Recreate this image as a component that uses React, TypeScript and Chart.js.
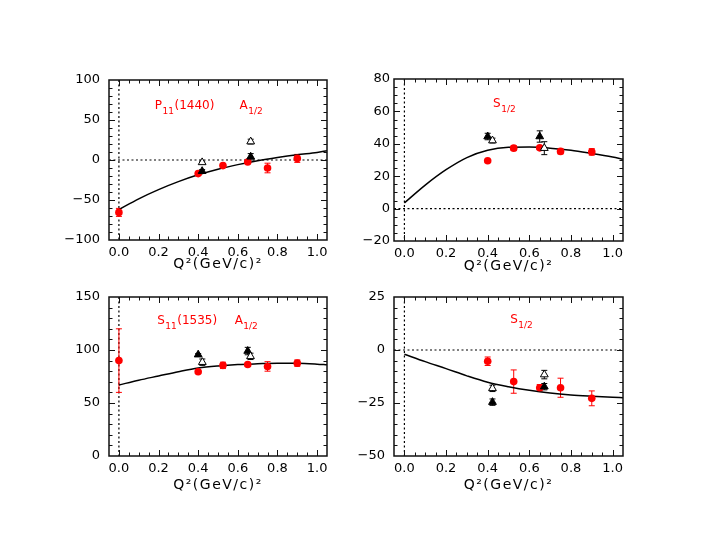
import React, { useEffect, useRef } from "react";
import { Chart, registerables } from "chart.js";

Chart.register(...registerables);

const FONT = "'DejaVu Sans', 'Liberation Sans', sans-serif";
const RED = "#ff0000";

// ---- shared axis data ----
const xMajorTicks = [0, 0.2, 0.4, 0.6, 0.8, 1.0];
const xTitle = "Q²(GeV/c)²";
const curveQ2 = [0, 0.1, 0.2, 0.3, 0.4, 0.5, 0.6, 0.7, 0.8, 0.9, 1.0, 1.05];

// ---- Panel 1: P11(1440) A1/2 ----
const p1YTicks = [-100, -50, 0, 50, 100];
const p1Curve = [-62, -48.5, -37, -27, -18.5, -11.5, -5.8, -1, 3, 6.5, 9.5, 11.5];
const p1RedQ2 = [0.0, 0.4, 0.525, 0.65, 0.75, 0.9];
const p1RedVal = [-65.5, -17, -7, -2.5, -10, 2];
const p1RedErr = [5, 2, 2, 2, 6, 5];
const p1FilledQ2 = [0.42, 0.665];
const p1FilledVal = [-14, 4];
const p1FilledErr = [2, 4];
const p1OpenQ2 = [0.42, 0.665];
const p1OpenVal = [-3, 23];
const p1OpenErr = [1.5, 3];

// ---- Panel 2: P11(1440) S1/2 ----
const p2YTicks = [-20, 0, 20, 40, 60, 80];
const p2Curve = [3.5, 14.5, 24, 31.5, 36, 37.8, 38, 37.3, 36, 34, 31.8, 30.5];
const p2RedQ2 = [0.4, 0.525, 0.65, 0.75, 0.9];
const p2RedVal = [29.5, 37.3, 37.5, 35.3, 35];
const p2RedErr = [0, 1.5, 1, 1.5, 2];
const p2FilledQ2 = [0.4, 0.65];
const p2FilledVal = [44.5, 44.5];
const p2FilledErr = [2, 3.5];
const p2OpenQ2 = [0.423, 0.672];
const p2OpenVal = [42, 37.3];
const p2OpenErr = [1.5, 4];

// ---- Panel 3: S11(1535) A1/2 ----
const p3YTicks = [0, 50, 100, 150];
const p3Curve = [67, 71.5, 75.5, 79.5, 83, 85, 86.3, 87, 87.5, 87.4, 86.6, 86];
const p3RedQ2 = [0.0, 0.4, 0.525, 0.65, 0.75, 0.9];
const p3RedVal = [90, 79.5, 85.5, 86.3, 84.5, 87.6];
const p3RedErr = [30, 0, 3, 1.5, 4.5, 3];
const p3FilledQ2 = [0.4, 0.65];
const p3FilledVal = [95.6, 99];
const p3FilledErr = [1, 3.5];
const p3OpenQ2 = [0.421, 0.664];
const p3OpenVal = [88.5, 94];
const p3OpenErr = [3, 3];

// ---- Panel 4: S11(1535) S1/2 ----
const p4YTicks = [-50, -25, 0, 25];
const p4Curve = [-2, -5.5, -8.8, -12.2, -15.2, -17.3, -19, -20.3, -21.2, -21.8, -22.3, -22.5];
const p4RedQ2 = [0.4, 0.525, 0.65, 0.75, 0.9];
const p4RedVal = [-5.3, -14.9, -17.8, -17.8, -22.8];
const p4RedErr = [2, 5.5, 1.5, 4.5, 3.5];
const p4FilledQ2 = [0.423, 0.672];
const p4FilledVal = [-24.6, -17.3];
const p4FilledErr = [1.5, 1.5];
const p4OpenQ2 = [0.423, 0.672];
const p4OpenVal = [-18.1, -11.6];
const p4OpenErr = [1.5, 2];

const pts = (xs: number[], ys: number[]) => xs.map((x, i) => ({ x, y: ys[i] }));

type Label = { main: string; sub: string; rest?: string; x: number; y: number };

type Panel = {
  left: number; top: number; w: number; h: number;
  yTicks: number[]; yMinor: number; yPad: number; titlePad: number;
  curve: number[];
  red: [number[], number[], number[]];
  filled: [number[], number[], number[]];
  open: [number[], number[], number[]];
  labels: Label[];
};

const panels: Panel[] = [
  {
    left: 109, top: 80, w: 218, h: 160, yTicks: p1YTicks, yMinor: 10, yPad: 9, titlePad: 12,
    curve: p1Curve,
    red: [p1RedQ2, p1RedVal, p1RedErr],
    filled: [p1FilledQ2, p1FilledVal, p1FilledErr],
    open: [p1OpenQ2, p1OpenVal, p1OpenErr],
    labels: [
      { main: "P", sub: "11", rest: "(1440)", x: 0.181, y: 63.8 },
      { main: "A", sub: "1/2", x: 0.609, y: 63.8 },
    ],
  },
  {
    left: 394, top: 79, w: 229, h: 162, yTicks: p2YTicks, yMinor: 5, yPad: 4, titlePad: 11,
    curve: p2Curve,
    red: [p2RedQ2, p2RedVal, p2RedErr],
    filled: [p2FilledQ2, p2FilledVal, p2FilledErr],
    open: [p2OpenQ2, p2OpenVal, p2OpenErr],
    labels: [{ main: "S", sub: "1/2", x: 0.426, y: 62.7 }],
  },
  {
    left: 109, top: 297, w: 218, h: 159, yTicks: p3YTicks, yMinor: 10, yPad: 9, titlePad: 7.5,
    curve: p3Curve,
    red: [p3RedQ2, p3RedVal, p3RedErr],
    filled: [p3FilledQ2, p3FilledVal, p3FilledErr],
    open: [p3OpenQ2, p3OpenVal, p3OpenErr],
    labels: [
      { main: "S", sub: "11", rest: "(1535)", x: 0.193, y: 124.5 },
      { main: "A", sub: "1/2", x: 0.584, y: 124.5 },
    ],
  },
  {
    left: 394, top: 297, w: 229, h: 159, yTicks: p4YTicks, yMinor: 5, yPad: 9, titlePad: 7.5,
    curve: p4Curve,
    red: [p4RedQ2, p4RedVal, p4RedErr],
    filled: [p4FilledQ2, p4FilledVal, p4FilledErr],
    open: [p4OpenQ2, p4OpenVal, p4OpenErr],
    labels: [{ main: "S", sub: "1/2", x: 0.508, y: 12.6 }],
  },
];

const PAD_L = 70, PAD_T = 25, PAD_R = 25, PAD_B = 45;

const framePlugin = {
  id: "frame",
  beforeDraw(chart: any) {
    // widen the letter spacing of the x-axis title only
    const sx = chart.scales.x;
    if (sx && !sx.__spaced) {
      const orig = sx.drawTitle.bind(sx);
      sx.drawTitle = () => {
        const c = chart.ctx;
        c.save();
        try { c.letterSpacing = "1.5px"; } catch (e) {}
        orig();
        c.restore();
      };
      sx.__spaced = true;
    }
  },
  beforeDatasetsDraw(chart: any) {
    const { ctx, chartArea: a, scales } = chart;
    const x = scales.x, y = scales.y;
    ctx.save();
    ctx.strokeStyle = "#000";
    ctx.lineWidth = 1.2;
    ctx.setLineDash([2, 2.5]);
    const x0 = x.getPixelForValue(0);
    ctx.beginPath();
    ctx.moveTo(x0, a.top);
    ctx.lineTo(x0, a.bottom);
    if (y.min < 0 && y.max > 0) {
      const y0 = y.getPixelForValue(0);
      ctx.moveTo(a.left, y0);
      ctx.lineTo(a.right, y0);
    }
    ctx.stroke();
    ctx.setLineDash([]);
    // error bars
    ctx.lineWidth = 1;
    chart.data.datasets.forEach((ds: any) => {
      if (!ds.err) return;
      ctx.strokeStyle = ds.errColor;
      ds.data.forEach((p: any, j: number) => {
        const e = ds.err[j];
        if (!e) return;
        const px = x.getPixelForValue(p.x);
        const yt = y.getPixelForValue(p.y + e);
        const yb = y.getPixelForValue(p.y - e);
        ctx.beginPath();
        ctx.moveTo(px, yt);
        ctx.lineTo(px, yb);
        ctx.moveTo(px - 3, yt);
        ctx.lineTo(px + 3, yt);
        ctx.moveTo(px - 3, yb);
        ctx.lineTo(px + 3, yb);
        ctx.stroke();
      });
    });
    ctx.restore();
  },
  afterDraw(chart: any, _args: any, opts: any) {
    const { ctx, chartArea: a, scales } = chart;
    const x = scales.x, y = scales.y;
    ctx.save();
    ctx.strokeStyle = "#111";
    ctx.lineWidth = 1.5;
    ctx.strokeRect(a.left, a.top, a.right - a.left, a.bottom - a.top);
    ctx.lineWidth = 1;
    ctx.beginPath();
    // x ticks (major every 0.2, minor every 0.05)
    for (let k = -1; k <= 21; k++) {
      const v = k * 0.05;
      if (v <= x.min + 1e-6 || v >= x.max - 1e-6) continue;
      const major = k % 4 === 0;
      const len = major ? 6 : 3.5;
      const px = Math.round(x.getPixelForValue(v)) + 0.5;
      ctx.moveTo(px, a.bottom);
      ctx.lineTo(px, a.bottom - len);
      ctx.moveTo(px, a.top);
      ctx.lineTo(px, a.top + len);
    }
    // y ticks
    const step = opts.yMinor;
    const majors: number[] = opts.yTicks;
    const n = Math.round((y.max - y.min) / step);
    for (let k = 1; k < n; k++) {
      const v = y.min + k * step;
      const major = majors.some((m) => Math.abs(m - v) < 1e-6);
      const len = major ? 6 : 3.5;
      const py = Math.round(y.getPixelForValue(v)) + 0.5;
      ctx.moveTo(a.left, py);
      ctx.lineTo(a.left + len, py);
      ctx.moveTo(a.right, py);
      ctx.lineTo(a.right - len, py);
    }
    ctx.stroke();
    // labels
    ctx.fillStyle = RED;
    ctx.textBaseline = "alphabetic";
    ctx.textAlign = "left";
    (opts.labels as Label[]).forEach((l) => {
      let px = x.getPixelForValue(l.x);
      const py = y.getPixelForValue(l.y);
      ctx.font = `12px ${FONT}`;
      ctx.fillText(l.main, px, py);
      px += ctx.measureText(l.main).width + 0.5;
      ctx.font = `9px ${FONT}`;
      ctx.fillText(l.sub, px, py + 4.8);
      px += ctx.measureText(l.sub).width + 0.5;
      if (l.rest) {
        ctx.font = `12px ${FONT}`;
        ctx.fillText(l.rest, px, py);
      }
    });
    ctx.restore();
  },
};

const fmtY = (v: number) => (v < 0 ? "−" + Math.abs(v) : String(v));

function PanelChart({ p }: { p: Panel }) {
  const ref = useRef<HTMLCanvasElement>(null);
  const W = p.w + PAD_L + PAD_R;
  const H = p.h + PAD_T + PAD_B;
  useEffect(() => {
    if (!ref.current) return;
    const yMin = p.yTicks[0];
    const yMax = p.yTicks[p.yTicks.length - 1];
    const chart = new Chart(ref.current, {
      type: "scatter",
      data: {
        datasets: [
          {
            data: pts(p.open[0], p.open[1]),
            pointStyle: "triangle",
            pointRadius: 4.5,
            backgroundColor: "#fff",
            borderColor: "#000",
            borderWidth: 1,
            err: p.open[2],
            errColor: "#000",
          } as any,
          {
            data: pts(p.filled[0], p.filled[1]),
            pointStyle: "triangle",
            pointRadius: 4.5,
            backgroundColor: "#000",
            borderColor: "#000",
            borderWidth: 1,
            err: p.filled[2],
            errColor: "#000",
          } as any,
          {
            data: pts(p.red[0], p.red[1]),
            pointStyle: "circle",
            pointRadius: 3.8,
            backgroundColor: RED,
            borderColor: RED,
            borderWidth: 0,
            err: p.red[2],
            errColor: RED,
          } as any,
          {
            data: pts(curveQ2, p.curve),
            showLine: true,
            borderColor: "#000",
            borderWidth: 1.5,
            pointRadius: 0,
            cubicInterpolationMode: "monotone",
            fill: false,
          } as any,
        ],
      },
      options: {
        responsive: false,
        animation: false,
        devicePixelRatio: 1,
        events: [],
        layout: { padding: { left: 0, top: PAD_T, right: PAD_R, bottom: 0 } },
        plugins: {
          legend: { display: false },
          tooltip: { enabled: false },
          frame: { yMinor: p.yMinor, yTicks: p.yTicks, labels: p.labels },
        } as any,
        scales: {
          x: {
            type: "linear",
            min: -0.05,
            max: 1.05,
            afterBuildTicks: (s: any) => {
              s.ticks = xMajorTicks.map((v) => ({ value: v }));
            },
            afterFit: (s: any) => {
              s.height = PAD_B;
            },
            ticks: {
              callback: (v: any) => Number(v).toFixed(1),
              font: { family: FONT, size: 13 },
              color: "#000",
              padding: 5,
              maxRotation: 0,
              autoSkip: false,
            },
            grid: { display: false, drawTicks: false },
            border: { display: false },
            title: {
              display: true,
              text: xTitle,
              font: { family: FONT, size: 14 },
              color: "#000",
              padding: { top: 0, bottom: p.titlePad },
            },
          },
          y: {
            type: "linear",
            min: yMin,
            max: yMax,
            afterBuildTicks: (s: any) => {
              s.ticks = p.yTicks.map((v) => ({ value: v }));
            },
            afterFit: (s: any) => {
              s.width = PAD_L;
            },
            ticks: {
              callback: (v: any) => fmtY(Number(v)),
              font: { family: FONT, size: 13 },
              color: "#000",
              padding: p.yPad,
              autoSkip: false,
            },
            grid: { display: false, drawTicks: false },
            border: { display: false },
          },
        } as any,
      },
      plugins: [framePlugin as any],
    });
    return () => chart.destroy();
  }, [p]);
  return (
    <canvas
      ref={ref}
      width={W}
      height={H}
      style={{ position: "absolute", left: p.left - PAD_L, top: p.top - PAD_T, width: W, height: H }}
    />
  );
}

export default function App() {
  return (
    <div style={{ position: "absolute", left: 0, top: 0, width: 705, height: 545, background: "#fff", overflow: "hidden" }}>
      {panels.map((p, i) => (
        <PanelChart key={i} p={p} />
      ))}
    </div>
  );
}
